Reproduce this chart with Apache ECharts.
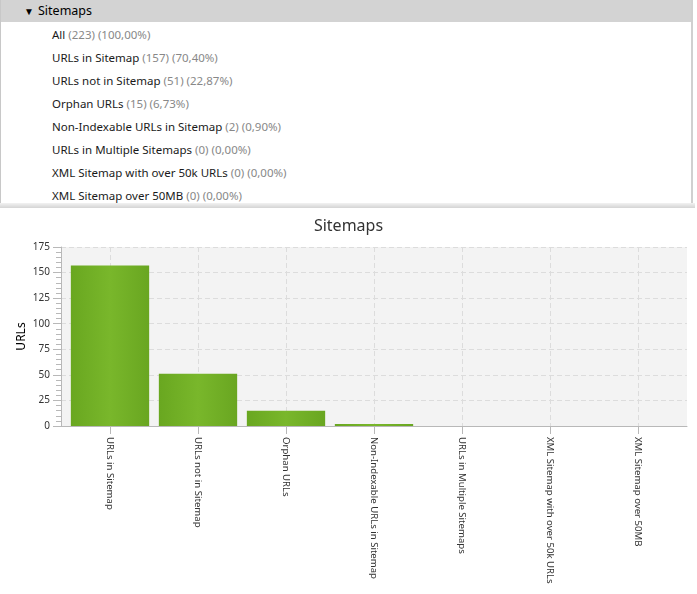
<!DOCTYPE html>
<html>
<head>
<meta charset="utf-8">
<script src="https://cdn.jsdelivr.net/npm/echarts@6/dist/echarts.min.js"></script>
<style>
  html, body { margin: 0; padding: 0; background: #fff; }
  #chart { position: absolute; left: 0; top: 0; width: 697px; height: 594px; }
  #panel {
    position: absolute; left: 0; top: 0; width: 693px; height: 203px;
    background: #fff; border-left: 1px solid #c8c8c8; border-right: 2px solid #d0d0d0;
    box-sizing: border-box; z-index: 2;
    font-family: 'Noto Sans', sans-serif; font-size: 11.5px; color: #1a1a1a;
  }
  #panel .head {
    position: absolute; left: 0; top: 0; right: 0; height: 22px; background: #d3d3d3;
    font-size: 12.5px; line-height: 22px; color: #000;
  }
  #panel .head .arrow { position: absolute; left: 23px; top: 0; font-size: 10px; }
  #panel .head .label { position: absolute; left: 37px; top: 0; }
  #panel .row { position: absolute; left: 51px; height: 23px; line-height: 23px; white-space: nowrap; }
  #panel .row span { color: #888; }
  #shadow {
    position: absolute; left: 0; top: 203px; width: 695px; height: 5px; z-index: 2;
    background: linear-gradient(#f2f2f2, #d4d4d4);
  }
</style>
</head>
<body>
<div id="chart"></div>
<div id="panel">
  <div class="head"><span class="arrow">&#9660;</span><span class="label">Sitemaps</span></div>
</div>
<div id="shadow"></div>
<script>
  // tree rows above the chart
  const rowNames = [
    'All',
    'URLs in Sitemap',
    'URLs not in Sitemap',
    'Orphan URLs',
    'Non-Indexable URLs in Sitemap',
    'URLs in Multiple Sitemaps',
    'XML Sitemap with over 50k URLs',
    'XML Sitemap over 50MB',
  ];
  const rowCounts = [223, 157, 51, 15, 2, 0, 0, 0];
  const rowPercents = ['100,00%', '70,40%', '22,87%', '6,73%', '0,90%', '0,00%', '0,00%', '0,00%'];

  // chart data
  const categories = [
    'URLs in Sitemap',
    'URLs not in Sitemap',
    'Orphan URLs',
    'Non-Indexable URLs in Sitemap',
    'URLs in Multiple Sitemaps',
    'XML Sitemap with over 50k URLs',
    'XML Sitemap over 50MB',
  ];
  const urlCounts = [157, 51, 15, 2, 0, 0, 0];

  const panel = document.getElementById('panel');
  rowNames.forEach((name, i) => {
    const row = document.createElement('div');
    row.className = 'row';
    row.style.top = 23 + i * 23 + 'px';
    row.innerHTML = `${name} <span>(${rowCounts[i]}) (${rowPercents[i]})</span>`;
    panel.appendChild(row);
  });

  const lineColor = '#b8b8b8';
  const gridColor = '#dcdcdc';

  const myChart = echarts.init(document.getElementById('chart'));
  myChart.setOption({
    animation: false,
    textStyle: { fontFamily: 'Noto Sans' },
    title: {
      text: 'Sitemaps',
      left: 'center',
      top: 213,
      textStyle: { fontSize: 16, fontWeight: 'normal', color: '#333' },
    },
    grid: [
      {
        left: 61,
        top: 247,
        width: 626,
        height: 179,
        show: true,
        backgroundColor: '#f3f3f3',
        borderWidth: 0,
        containLabel: false,
        outerBoundsMode: 'none',
      },
      {
        left: 66,
        top: 247,
        width: 616,
        height: 179,
        containLabel: false,
        outerBoundsMode: 'none',
      },
    ],
    xAxis: [
      {
        gridIndex: 0,
        type: 'value',
        min: 0,
        max: 1,
        axisLine: { show: true, lineStyle: { color: lineColor } },
        axisTick: { show: false },
        axisLabel: { show: false },
        splitLine: { show: false },
      },
      {
        gridIndex: 1,
        type: 'category',
        data: categories,
        axisLine: { show: false },
        axisTick: {
          show: true,
          alignWithLabel: true,
          length: 8,
          lineStyle: { color: lineColor },
        },
        axisLabel: {
          interval: 0,
          rotate: -90,
          margin: 11,
          fontSize: 9.6,
          color: '#333',
        },
        splitLine: {
          show: true,
          alignWithLabel: true,
          lineStyle: { color: gridColor, type: [5, 3] },
        },
      },
    ],
    yAxis: [
      {
        gridIndex: 0,
        type: 'value',
        min: 0,
        max: 175,
        interval: 25,
        name: 'URLs',
        nameLocation: 'middle',
        nameGap: 33,
        nameMoveOverlap: false,
        nameTextStyle: { fontSize: 12, color: '#000' },
        axisLine: { show: true, lineStyle: { color: lineColor } },
        axisTick: { show: true, length: 8, lineStyle: { color: lineColor } },
        minorTick: { show: true, splitNumber: 5, length: 5, lineStyle: { color: lineColor } },
        axisLabel: { margin: 11, fontSize: 10, color: '#333' },
        splitLine: { show: true, lineStyle: { color: gridColor, type: [5, 3] } },
      },
      {
        gridIndex: 1,
        type: 'value',
        min: 0,
        max: 175,
        show: false,
      },
    ],
    series: [
      {
        name: 'URLs',
        type: 'bar',
        xAxisIndex: 1,
        yAxisIndex: 1,
        data: urlCounts,
        barCategoryGap: '11%',
        itemStyle: {
          color: new echarts.graphic.LinearGradient(0, 0, 1, 0, [
            { offset: 0, color: '#69a720' },
            { offset: 0.5, color: '#79b72b' },
            { offset: 1, color: '#69a621' },
          ]),
        },
      },
    ],
  });
</script>
</body>
</html>
